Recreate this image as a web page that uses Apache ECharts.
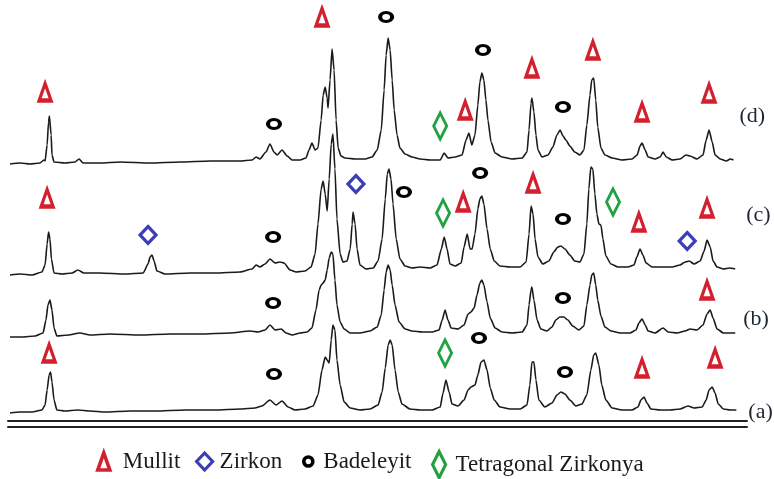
<!DOCTYPE html>
<html>
<head>
<meta charset="utf-8">
<script src="https://cdn.jsdelivr.net/npm/echarts@6/dist/echarts.min.js"></script>
<style>
  html, body { margin: 0; padding: 0; background: #fff; }
  #xrd { width: 774px; height: 479px; }
</style>
</head>
<body>
<div id="xrd"></div>
<script>
// XRD patterns: [2θ (deg), intensity above the pattern's own baseline]
const patternA = [
  [15.07, -2], [15.42, -1], [15.84, -1], [16.18, 1], [16.29, 6], [16.36, 21], [16.43, 36], [16.48, 39],
  [16.53, 29], [16.60, 11], [16.70, 1], [16.98, 0], [17.43, 1], [17.85, 0], [18.37, -1], [19.24, 0],
  [20.11, 0], [21.16, 1], [22.20, 1], [23.07, 2], [23.59, 3], [23.83, 5], [24.11, 11], [24.32, 6],
  [24.53, 10], [24.74, 4], [24.98, 1], [25.33, 2], [25.61, 5], [25.78, 16], [25.92, 41], [26.03, 54],
  [26.10, 51], [26.17, 48], [26.24, 71], [26.30, 86], [26.37, 81], [26.44, 51], [26.55, 26], [26.69, 9],
  [26.90, 3], [27.24, 1], [27.59, 2], [27.87, 6], [28.01, 19], [28.12, 43], [28.22, 66], [28.29, 71],
  [28.36, 66], [28.46, 41], [28.57, 19], [28.70, 7], [28.98, 2], [29.33, 1], [29.75, 1], [30.03, 4],
  [30.13, 18], [30.23, 31], [30.34, 19], [30.44, 7], [30.65, 5], [30.86, 11], [31.00, 21], [31.10, 24],
  [31.24, 26], [31.34, 36], [31.45, 49], [31.55, 51], [31.66, 41], [31.77, 23], [31.91, 11], [32.11, 4],
  [32.46, 2], [32.81, 2], [33.05, 6], [33.15, 26], [33.22, 49], [33.29, 49], [33.36, 31], [33.46, 11],
  [33.67, 4], [33.92, 8], [34.09, 16], [34.23, 19], [34.37, 17], [34.54, 11], [34.75, 5], [34.96, 7],
  [35.13, 16], [35.27, 41], [35.37, 56], [35.44, 58], [35.55, 46], [35.65, 26], [35.79, 11], [36.01, 3],
  [36.35, 1], [36.70, 1], [36.91, 4], [37.01, 11], [37.12, 14], [37.22, 8], [37.36, 2], [37.68, 1],
  [38.03, 1], [38.37, 2], [38.65, 5], [38.86, 3], [39.14, 4], [39.28, 11], [39.38, 21], [39.49, 24],
  [39.59, 18], [39.70, 7], [39.88, 2], [40.12, 1], [40.33, 1]
]

const patternB = [
  [15.07, -3], [15.49, -3], [15.94, -2], [16.22, 1], [16.32, 14], [16.39, 29], [16.46, 34], [16.53, 24],
  [16.60, 6], [16.70, -2], [17.09, -1], [17.50, 1], [17.85, -1], [18.55, 0], [19.59, -1], [20.63, 0],
  [21.68, 0], [22.72, 1], [23.42, 3], [23.70, 2], [23.94, 4], [24.11, 9], [24.29, 4], [24.50, 5],
  [24.67, 1], [24.88, -1], [25.16, 1], [25.40, 2], [25.57, 6], [25.71, 24], [25.82, 44], [25.89, 49],
  [25.96, 51], [26.03, 54], [26.10, 64], [26.17, 76], [26.24, 82], [26.30, 80], [26.37, 54], [26.44, 29],
  [26.55, 12], [26.69, 5], [26.90, 1], [27.24, 1], [27.59, 3], [27.84, 7], [27.98, 19], [28.08, 44],
  [28.15, 62], [28.22, 69], [28.29, 64], [28.36, 49], [28.46, 29], [28.60, 12], [28.81, 5], [29.05, 3],
  [29.40, 2], [29.75, 2], [29.99, 4], [30.10, 14], [30.20, 24], [30.30, 14], [30.41, 6], [30.65, 5],
  [30.86, 9], [31.00, 20], [31.10, 22], [31.21, 26], [31.31, 39], [31.41, 51], [31.48, 54], [31.55, 49],
  [31.66, 32], [31.77, 16], [31.94, 6], [32.18, 2], [32.53, 1], [32.88, 2], [33.05, 9], [33.12, 29],
  [33.19, 44], [33.22, 47], [33.29, 34], [33.40, 14], [33.53, 5], [33.74, 3], [33.92, 7], [34.05, 14],
  [34.19, 17], [34.33, 17], [34.47, 14], [34.64, 8], [34.85, 4], [35.03, 8], [35.13, 29], [35.24, 49],
  [35.30, 59], [35.37, 61], [35.44, 49], [35.51, 34], [35.62, 18], [35.76, 7], [35.97, 3], [36.29, 1],
  [36.63, 1], [36.84, 4], [36.94, 11], [37.05, 15], [37.16, 9], [37.26, 3], [37.50, 1], [37.78, 6],
  [37.96, 2], [38.27, 1], [38.55, 3], [38.72, 5], [38.96, 4], [39.17, 9], [39.31, 20], [39.42, 24],
  [39.52, 16], [39.66, 5], [39.88, 1], [40.09, 1], [40.29, 1]
]

const patternC = [
  [15.07, -5], [15.42, -4], [15.84, -5], [16.18, -2], [16.29, 5], [16.36, 26], [16.41, 38], [16.46, 31],
  [16.51, 11], [16.60, -3], [16.88, -4], [17.23, -3], [17.43, 0], [17.64, -3], [18.20, -3], [19.07, -4],
  [19.70, -3], [19.87, 6], [19.94, 13], [20.01, 15], [20.08, 9], [20.18, -1], [20.46, -4], [21.33, -3],
  [22.20, -3], [23.07, -2], [23.49, 1], [23.63, 5], [23.76, 3], [23.94, 6], [24.11, 11], [24.29, 7],
  [24.46, 8], [24.60, 7], [24.81, 0], [25.02, -2], [25.33, -1], [25.54, 3], [25.68, 16], [25.78, 46],
  [25.89, 81], [25.96, 89], [26.03, 76], [26.10, 59], [26.17, 91], [26.24, 126], [26.30, 136], [26.37, 101],
  [26.44, 51], [26.55, 16], [26.65, 8], [26.79, 9], [26.90, 21], [26.97, 46], [27.00, 58], [27.07, 46],
  [27.14, 21], [27.24, 5], [27.45, 1], [27.70, 2], [27.87, 9], [28.01, 31], [28.12, 71], [28.19, 96],
  [28.25, 101], [28.32, 91], [28.39, 66], [28.50, 31], [28.63, 11], [28.81, 4], [29.05, 2], [29.33, 3],
  [29.68, 2], [29.92, 5], [30.07, 21], [30.17, 33], [30.27, 21], [30.37, 6], [30.55, 4], [30.76, 7],
  [30.86, 23], [30.97, 36], [31.07, 21], [31.14, 21], [31.24, 36], [31.34, 61], [31.41, 71], [31.48, 74],
  [31.55, 66], [31.66, 41], [31.77, 21], [31.91, 9], [32.11, 4], [32.46, 3], [32.81, 3], [33.02, 8],
  [33.12, 36], [33.19, 64], [33.26, 56], [33.33, 31], [33.43, 13], [33.60, 6], [33.81, 9], [33.98, 18],
  [34.12, 23], [34.23, 24], [34.37, 21], [34.54, 15], [34.71, 9], [34.89, 8], [35.03, 16], [35.13, 46],
  [35.20, 81], [35.27, 103], [35.34, 101], [35.41, 76], [35.48, 56], [35.55, 46], [35.62, 45], [35.69, 31],
  [35.79, 14], [35.97, 6], [36.21, 3], [36.56, 3], [36.77, 5], [36.87, 13], [36.98, 21], [37.08, 15],
  [37.19, 7], [37.40, 3], [37.75, 3], [38.10, 3], [38.37, 5], [38.55, 8], [38.69, 9], [38.86, 6],
  [39.07, 9], [39.21, 19], [39.31, 30], [39.42, 23], [39.52, 9], [39.66, 3], [39.88, 1], [40.09, 2],
  [40.29, 1]
]

const patternD = [
  [15.07, -3], [15.42, -2], [15.77, -3], [16.11, -2], [16.25, 1], [16.29, 0], [16.36, 16], [16.41, 39],
  [16.44, 45], [16.50, 26], [16.53, 6], [16.60, -1], [16.98, -2], [17.33, -1], [17.47, 2], [17.61, -2],
  [18.20, -2], [18.90, -1], [19.94, -2], [20.98, -1], [22.03, 0], [23.07, 0], [23.49, 1], [23.63, 4],
  [23.76, 2], [23.97, 9], [24.11, 17], [24.25, 9], [24.36, 6], [24.53, 11], [24.71, 5], [24.88, 1],
  [25.16, 1], [25.36, 3], [25.47, 11], [25.57, 18], [25.68, 11], [25.78, 13], [25.89, 41], [25.96, 66],
  [26.03, 74], [26.10, 63], [26.13, 53], [26.20, 81], [26.27, 112], [26.34, 91], [26.41, 41], [26.48, 13],
  [26.58, 5], [26.72, 3], [27.07, 2], [27.42, 2], [27.66, 4], [27.84, 11], [27.98, 31], [28.08, 71],
  [28.15, 106], [28.22, 123], [28.29, 111], [28.36, 81], [28.43, 51], [28.53, 26], [28.63, 13], [28.81, 7],
  [29.05, 4], [29.33, 2], [29.68, 1], [30.03, 1], [30.17, 8], [30.30, 3], [30.55, 4], [30.79, 6],
  [30.93, 21], [31.03, 28], [31.13, 16], [31.24, 26], [31.34, 56], [31.41, 79], [31.48, 88], [31.55, 81],
  [31.62, 61], [31.69, 41], [31.80, 19], [31.94, 8], [32.18, 4], [32.53, 2], [32.88, 3], [33.05, 9],
  [33.12, 31], [33.19, 58], [33.22, 63], [33.29, 49], [33.36, 26], [33.43, 11], [33.57, 4], [33.78, 6],
  [33.95, 14], [34.09, 26], [34.20, 31], [34.30, 25], [34.40, 21], [34.54, 15], [34.71, 9], [34.89, 6],
  [35.03, 11], [35.13, 36], [35.24, 66], [35.30, 81], [35.37, 83], [35.44, 61], [35.51, 34], [35.62, 13],
  [35.76, 6], [36.01, 3], [36.35, 1], [36.70, 2], [36.88, 6], [36.98, 15], [37.05, 18], [37.16, 11],
  [37.26, 4], [37.50, 2], [37.68, 4], [37.78, 9], [37.89, 4], [38.10, 1], [38.37, 2], [38.58, 6],
  [38.72, 5], [38.96, 2], [39.17, 6], [39.28, 21], [39.38, 31], [39.49, 19], [39.59, 6], [39.77, 2],
  [39.98, 0], [40.12, 2], [40.23, 1]
]

// vertical stacking of the patterns (a) .. (d)
const patternOffsets = [10, 87, 151, 260]
const patternLabels = ['(a)', '(b)', '(c)', '(d)']

// phase markers: [2θ, height on the stacked scale]
const mullit = [
  [16.29, 329], [25.92, 404], [30.90, 311], [33.22, 353], [35.34, 371], [37.05, 309], [39.38, 328],
  [16.36, 223], [30.83, 219], [33.26, 238], [36.94, 199], [39.31, 213],
  [39.31, 131],
  [16.43, 68], [37.05, 53], [39.59, 63]
]
const zirkon = [[19.87, 186], [27.10, 237], [38.62, 180]]
const badeleyit = [
  [24.25, 297], [28.15, 404], [31.52, 371], [34.30, 314],
  [24.22, 184], [28.77, 229], [31.42, 248], [34.30, 202],
  [24.22, 118], [34.30, 123],
  [24.25, 47], [31.38, 83], [34.37, 49]
]
const tetragonal = [[30.03, 295], [30.13, 208], [36.04, 219], [30.20, 68]]

const serif = '"Liberation Serif", "DejaVu Serif", serif'

const phases = [
  { name: 'Mullit', data: mullit, symbol: 'triangle', size: [12, 17], color: '#d3202e', lw: 3.6 },
  { name: 'Zirkon', data: zirkon, symbol: 'diamond', size: [16, 17], color: '#3d3db6', lw: 3.2 },
  { name: 'Badeleyit', data: badeleyit, symbol: 'circle', size: [12, 9], color: '#000000', lw: 3.6 },
  { name: 'Tetragonal Zirkonya', data: tetragonal, symbol: 'diamond', size: [13, 26], color: '#22a142', lw: 3.2 }
]
const legendLeft = [96, 195, 302, 431]
const legendPad = [8, 2, 4, 5]

const labelShift = [[7, 2], [3, -14], [6, -54], [1, -44]]

const chart = echarts.init(document.getElementById('xrd'), null, { renderer: 'canvas' })

const lineSeries = [patternA, patternB, patternC, patternD].map((pat, i) => ({
  type: 'line',
  name: patternLabels[i],
  data: pat.map(p => [p[0], p[1] + patternOffsets[i]]),
  showSymbol: false,
  smooth: 0.2,
  smoothMonotone: 'x',
  lineStyle: { color: '#1a1a1a', width: 1.6 },
  endLabel: {
    show: true,
    formatter: patternLabels[i],
    distance: 5,
    offset: labelShift[i],
    fontFamily: serif,
    fontSize: 22,
    color: '#1c2533'
  },
  z: 2
}))

const markerSeries = phases.map(ph => ({
  type: 'scatter',
  name: ph.name,
  data: ph.data,
  symbol: ph.symbol,
  symbolSize: ph.size,
  itemStyle: { color: 'rgba(255,255,255,0)', borderColor: ph.color, borderWidth: ph.lw, opacity: 1 },
  z: 3
}))

chart.setOption({
  animation: false,
  backgroundColor: '#fff',
  grid: { left: 8, right: 27, top: 0, bottom: 58 },
  xAxis: [
    {
      type: 'value', min: 15, max: 40.7,
      axisLine: { show: true, lineStyle: { color: '#222', width: 2 } },
      axisTick: { show: false }, axisLabel: { show: false }, splitLine: { show: false }
    },
    {
      type: 'value', min: 15, max: 40.7, position: 'bottom', offset: 6,
      axisLine: { show: true, lineStyle: { color: '#222', width: 2 } },
      axisTick: { show: false }, axisLabel: { show: false }, splitLine: { show: false }
    }
  ],
  yAxis: {
    type: 'value', min: 0, max: 421, show: false, splitLine: { show: false }
  },
  legend: phases.map((ph, i) => ({
    data: [ph.name],
    left: legendLeft[i],
    top: 450,
    padding: 0,
    itemWidth: ph.size[0],
    itemHeight: ph.size[1],
    selectedMode: false,
    itemStyle: { color: 'rgba(255,255,255,0)', borderColor: ph.color, borderWidth: ph.lw, opacity: 1 },
    textStyle: { fontFamily: serif, fontSize: 23, color: '#1a1a1a', padding: [0, 0, 0, legendPad[i]] }
  })),
  series: lineSeries.concat(markerSeries)
})
</script>
</body>
</html>
